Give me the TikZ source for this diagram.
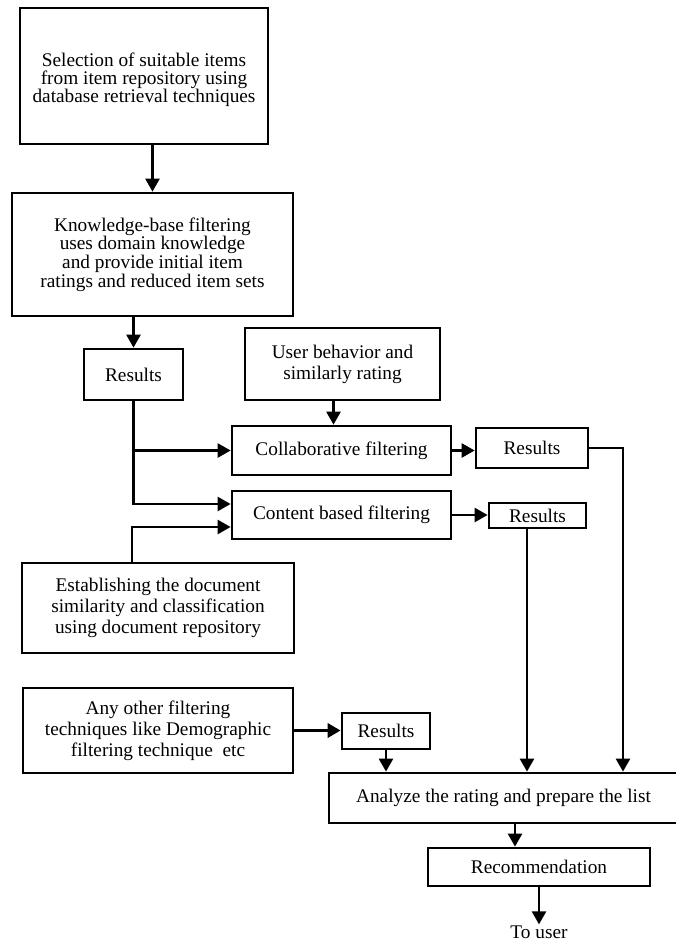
\documentclass[tikz,border=0pt]{standalone}
\usepackage{fontspec}
\setmainfont{Liberation Serif}
\usetikzlibrary{arrows.meta}
\begin{document}
\begin{tikzpicture}[x=1pt,y=-1pt,
  box/.style={draw, line width=2.7pt, rectangle, align=center, inner sep=0pt,
              font=\fontsize{19.3}{20}\selectfont},
  tight/.style={font=\fontsize{19.3}{17.5}\selectfont},
  loose/.style={font=\fontsize{19.3}{21}\selectfont},
  arr/.style={line width=2.4pt, -{Triangle[length=13pt,width=14pt]}},
  thickarr/.style={line width=3.8pt, -{Triangle[length=13pt,width=14pt]}}]
\useasboundingbox (0,0) rectangle (676,943);
\fill[white] (0,0) rectangle (676,943);

\node[box, tight, minimum width=248pt, minimum height=136pt] (sel) at (144,76)
  {\rule{0pt}{22pt}Selection of suitable items\\from item repository using\\database retrieval techniques};
\node[box, tight, minimum width=281pt, minimum height=123pt] (kb) at (152.5,254.5)
  {Knowledge-base filtering\\uses domain knowledge\\and provide initial item\\ratings and reduced item sets};
\node[box, minimum width=99pt, minimum height=51pt] (res1) at (133.5,374.5) {Results};
\node[box, loose, minimum width=195pt, minimum height=72pt] (user) at (342.5,364)
  {User behavior and\\similarly rating};
\node[box, minimum width=219pt, minimum height=49pt] (collab) at (341.5,450.5) {Collaborative filtering};
\node[box, minimum width=112pt, minimum height=40pt] (res2) at (532,448) {Results};
\node[box, minimum width=219pt, minimum height=48pt] (content) at (341.5,515) {Content based filtering};
\node[box, minimum width=97pt, minimum height=25pt] (res3) at (537.5,515.5) {Results};
\node[box, loose, minimum width=272pt, minimum height=90pt] (estab) at (158,608)
  {Establishing the document\\similarity and classification\\using document repository};
\node[box, loose, minimum width=270pt, minimum height=85pt] (other) at (158,730.5)
  {Any other filtering\\techniques like Demographic\\filtering technique\ \ etc};
\node[box, minimum width=88pt, minimum height=36pt] (res4) at (386,731) {Results};
\node[box, minimum width=349pt, minimum height=50pt] (analyze) at (503.5,798)
  {Analyze the rating and prepare the list};
\node[box, minimum width=222pt, minimum height=38pt] (rec) at (539,867) {Recommendation};
\node[inner sep=1pt, font=\fontsize{19.3}{20}\selectfont] (touser) at (539,932) {To user};

\draw[arr] (kb.north |- sel.south) -- (kb.north);
\draw[arr] (res1.north |- kb.south) -- (res1.north);
\draw[arr] ([xshift=-8pt]collab.north |- user.south) -- ([xshift=-8pt]collab.north);
\draw[arr] (res1.south) |- ([yshift=11pt]content.west);
\draw[arr] (res1.south |- collab.west) -- (collab.west);
\draw[arr] ([xshift=-26pt]estab.north) |- ([yshift=-12pt]content.west);
\draw[arr] (collab.east) -- (collab.east -| res2.west);
\draw[arr] (content.east) -- (content.east -| res3.west);
\draw[arr] (res2.east) -| ([xshift=119.5pt]analyze.north);
\draw[arr] ([xshift=-10.5pt]res3.south) -- ([xshift=-10.5pt]res3.south |- analyze.north);
\draw[thickarr] (other.east) -- (other.east -| res4.west);
\draw[arr] (res4.south) -- (res4.south |- analyze.north);
\draw[arr] ([xshift=-24pt]rec.north |- analyze.south) -- ([xshift=-24pt]rec.north);
\draw[arr] (rec.south) -- (rec.south |- touser.north);
\end{tikzpicture}
\end{document}
